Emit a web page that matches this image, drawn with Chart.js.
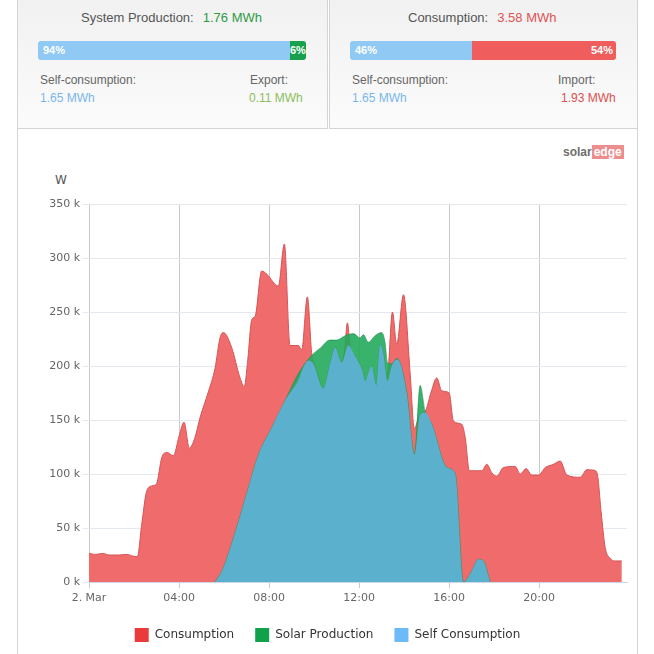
<!DOCTYPE html>
<html>
<head>
<meta charset="utf-8">
<script src="https://cdn.jsdelivr.net/npm/chart.js@4.4.1/dist/chart.umd.min.js"></script>
<style>
  body { margin: 0; width: 654px; height: 654px; overflow: hidden; background: #fff; position: relative;
         font-family: "Liberation Sans", Arial, sans-serif; }
  .panel { position: absolute; top: -2px; height: 131px; box-sizing: border-box; border: 1px solid #d4d4d4;
           background: linear-gradient(#f1f1f1, #fbfbfb); }
  .t { position: absolute; white-space: nowrap; font-size: 12px; line-height: 14px; color: #666; }
  .title { font-size: 13px; line-height: 15px; color: #555; }
  .bar { position: absolute; top: 41px; height: 19px; border-radius: 3px; overflow: hidden; display: flex;
         font: bold 11px/19px "Liberation Sans", Arial, sans-serif; color: #fff; }
  .bar div { height: 19px; box-sizing: border-box; }
  #chartBox { position: absolute; left: 17px; top: 128px; width: 621px; height: 530px; box-sizing: border-box;
              border-left: 1px solid #d4d4d4; border-right: 1px solid #d4d4d4; }
  #wrap { position: absolute; left: 18px; top: 128px; width: 618px; height: 526px; }
  #logo { position: absolute; left: 563px; top: 145px; font: bold 12px/15px "Liberation Sans", Arial, sans-serif; }
</style>
</head>
<body>
<div class="panel" style="left:17px;width:311px;"></div>
<div class="panel" style="left:329px;width:309px;"></div>

<div class="t title" style="left:81px;top:10px;">System Production:<span style="color:#2f9a45;margin-left:9px;">1.76 MWh</span></div>
<div class="bar" style="left:38px;width:268px;">
  <div style="width:94%;background:#8fc9f4;padding-left:5px;">94%</div>
  <div style="width:6%;background:#17a14c;text-align:right;padding-right:2px;">6%</div>
</div>
<div class="t" style="left:40px;top:73px;">Self-consumption:</div>
<div class="t" style="left:40px;top:91px;color:#79b7ea;">1.65 MWh</div>
<div class="t" style="left:250px;top:73px;">Export:</div>
<div class="t" style="left:249px;top:91px;color:#8dbd5c;">0.11 MWh</div>

<div class="t title" style="left:408px;top:10px;">Consumption:<span style="color:#e05252;margin-left:9px;">3.58 MWh</span></div>
<div class="bar" style="left:350px;width:266px;">
  <div style="width:46%;background:#8fc9f4;padding-left:5px;">46%</div>
  <div style="width:54%;background:#ef5d5d;text-align:right;padding-right:3px;">54%</div>
</div>
<div class="t" style="left:352px;top:73px;">Self-consumption:</div>
<div class="t" style="left:352px;top:91px;color:#79b7ea;">1.65 MWh</div>
<div class="t" style="left:558px;top:73px;">Import:</div>
<div class="t" style="left:561px;top:91px;color:#d94f4f;">1.93 MWh</div>

<div id="chartBox"></div>
<div id="logo"><span style="color:#6e6e6e;">solar</span><span style="color:#fff;background:#ec8e8e;padding:0 2px;">edge</span></div>
<div class="t" style="left:55px;top:173px;font-family:'DejaVu Sans';color:#555;">W</div>
<div id="wrap"><canvas id="chart"></canvas></div>

<script>
// hours of day / kW readings
const consTimes = [0, 0.3, 0.6, 0.9, 1.3, 1.7, 1.95, 2.15, 2.34, 2.56, 2.8, 3.0, 3.23, 3.45, 3.75, 4.0, 4.22, 4.46, 4.71, 4.93,
  5.3, 5.6, 5.82, 5.97, 6.34, 6.71, 6.9, 7.05, 7.23, 7.38, 7.67, 7.9, 8.41, 8.68, 8.93, 9.3, 9.45, 9.7, 9.9, 10.05,
  10.41, 10.71, 10.93, 11.23, 11.35, 11.48, 11.6, 11.82, 12.12, 12.27, 12.41, 12.56, 12.76, 12.93, 13.08, 13.25, 13.48, 13.67, 13.97, 14.27,
  14.45, 14.71, 14.93, 15.2, 15.45, 15.67, 16.0, 16.19, 16.56, 16.71, 16.9, 17.45, 17.67, 17.9, 18.12, 18.41, 18.93, 19.16, 19.42, 19.67,
  19.97, 20.27, 20.64, 20.93, 21.23, 21.82, 22.12, 22.44, 22.58, 22.75, 22.93, 23.15, 23.35, 23.67];
const consValues = [26.5, 25.5, 26.5, 25, 25, 25.5, 24, 23.5, 53, 84, 89, 91, 115, 120, 117, 135, 148, 124, 134, 152,
  176, 198, 226, 231, 217, 189, 181, 205, 243, 246, 288, 285, 274, 313, 219, 219, 215, 264, 210, 200,
  179, 202, 217, 203, 215, 240, 219, 209, 197, 186, 194, 200, 182, 220, 211, 190, 250, 220, 266, 192,
  142, 156, 158, 176, 189, 177, 175, 149, 146, 134, 103, 103, 109, 101, 98, 106, 107, 100, 105, 99,
  99, 106, 109, 112, 99, 97, 104, 103.5, 100, 65, 32, 22, 19.5, 19.5];

const prodTimes = [5.6, 5.9, 6.19, 6.64, 7.08, 7.53, 8.12, 8.71, 9.3, 9.55, 9.9, 10.3, 10.7, 11.0, 11.38, 11.75, 12.04, 12.19, 12.41, 12.71,
  13.0, 13.15, 13.26, 13.45, 13.67, 13.82, 14.12, 14.46, 14.71, 14.93, 15.23, 15.9, 16.27, 16.64, 17.0, 17.3, 17.52, 17.82];
const prodValues = [0, 10, 26, 56, 87, 118, 143, 168, 193, 201, 210, 217, 224, 224, 228, 230, 226, 229, 222, 228,
  231, 222, 203, 202, 207, 203, 175, 118, 182, 158, 146, 106, 100, 0, 10, 21, 19.5, 0];

const selfTimes = [5.6, 5.9, 6.19, 6.64, 7.08, 7.53, 8.12, 8.71, 9.3, 9.53, 9.75, 9.97, 10.41, 10.71, 10.93, 11.23, 11.52, 11.82, 12.12, 12.27,
  12.41, 12.56, 12.76, 12.93, 13.08, 13.26, 13.45, 13.67, 13.82, 14.12, 14.46, 14.71, 14.93, 15.23, 15.9, 16.27, 16.64, 17.0, 17.3, 17.52, 17.82];
const selfValues = [0, 10, 26, 56, 87, 118, 143, 168, 187, 199, 205, 202, 179, 202, 217, 203, 219, 209, 197, 186,
  194, 200, 182, 220, 211, 186, 200, 206, 203, 174, 118, 155, 157, 146, 106, 100, 0, 10, 21, 19.5, 0];

const seriesNames = ['Consumption', 'Solar Production', 'Self Consumption'];
const legendColors = ['#e93b3b', '#12a14b', '#6cbaf7'];
const xTickLabels = ['2. Mar', '04:00', '08:00', '12:00', '16:00', '20:00'];

const toPoints = (ts, vs) => ts.map((t, i) => ({ x: t, y: vs[i] }));

// nudge the legend a few px right so it centres on the panel, not the plot
const legendShift = {
    id: 'legendShift',
    afterLayout(chart) {
        chart.legend.left += 5;
        chart.legend.right += 5;
    }
};

new Chart(document.getElementById('chart'), {
    type: 'line',
    data: {
        datasets: [{
            label: seriesNames[0],
            data: toPoints(consTimes, consValues),
            backgroundColor: '#f06b6b',
            borderColor: '#d65454',
            borderWidth: 1,
            fill: 'origin',
            order: 3
        }, {
            label: seriesNames[1],
            data: toPoints(prodTimes, prodValues),
            backgroundColor: 'rgba(36,170,92,0.9)',
            borderColor: 'rgba(30,140,80,0.6)',
            borderWidth: 1,
            fill: 'origin',
            order: 2
        }, {
            label: seriesNames[2],
            data: toPoints(selfTimes, selfValues),
            backgroundColor: '#5bb0cd',
            borderWidth: 0,
            fill: 'origin',
            order: 1
        }]
    },
    plugins: [legendShift],
    options: {
        responsive: true,
        maintainAspectRatio: false,
        animation: false,
        events: [],
        layout: { padding: { top: 76, right: 9, bottom: 2, left: 0 } },
        elements: {
            point: { radius: 0 },
            line: { cubicInterpolationMode: 'monotone' }
        },
        scales: {
            x: {
                type: 'linear',
                min: 0,
                max: 23.9,
                afterFit: (s) => { s.height = 25; },
                ticks: {
                    stepSize: 4,
                    includeBounds: false,
                    autoSkip: false,
                    maxRotation: 0,
                    padding: 4,
                    color: '#666',
                    font: { family: 'DejaVu Sans', size: 11 },
                    callback: (v) => xTickLabels[v / 4]
                },
                grid: { color: '#c9c9c9', tickLength: 6, drawOnChartArea: true },
                border: { color: '#ccd6eb' }
            },
            y: {
                min: 0,
                max: 350,
                afterFit: (s) => { s.width = 71; },
                ticks: {
                    stepSize: 50,
                    padding: 3,
                    color: '#666',
                    font: { family: 'DejaVu Sans', size: 11 },
                    callback: (v) => v + ' k'
                },
                grid: { color: '#e3e9ee', tickLength: 6 },
                border: { display: false }
            }
        },
        plugins: {
            legend: {
                position: 'bottom',
                labels: {
                    boxWidth: 14,
                    boxHeight: 14,
                    padding: 21,
                    color: '#333',
                    font: { family: 'DejaVu Sans', size: 12 },
                    sort: (a, b) => a.datasetIndex - b.datasetIndex,
                    generateLabels: (chart) => Chart.defaults.plugins.legend.labels.generateLabels(chart)
                        .map((l) => Object.assign(l, {
                            fillStyle: legendColors[l.datasetIndex],
                            strokeStyle: legendColors[l.datasetIndex],
                            lineWidth: 0
                        }))
                }
            },
            tooltip: { enabled: false }
        }
    }
});
</script>
</body>
</html>
